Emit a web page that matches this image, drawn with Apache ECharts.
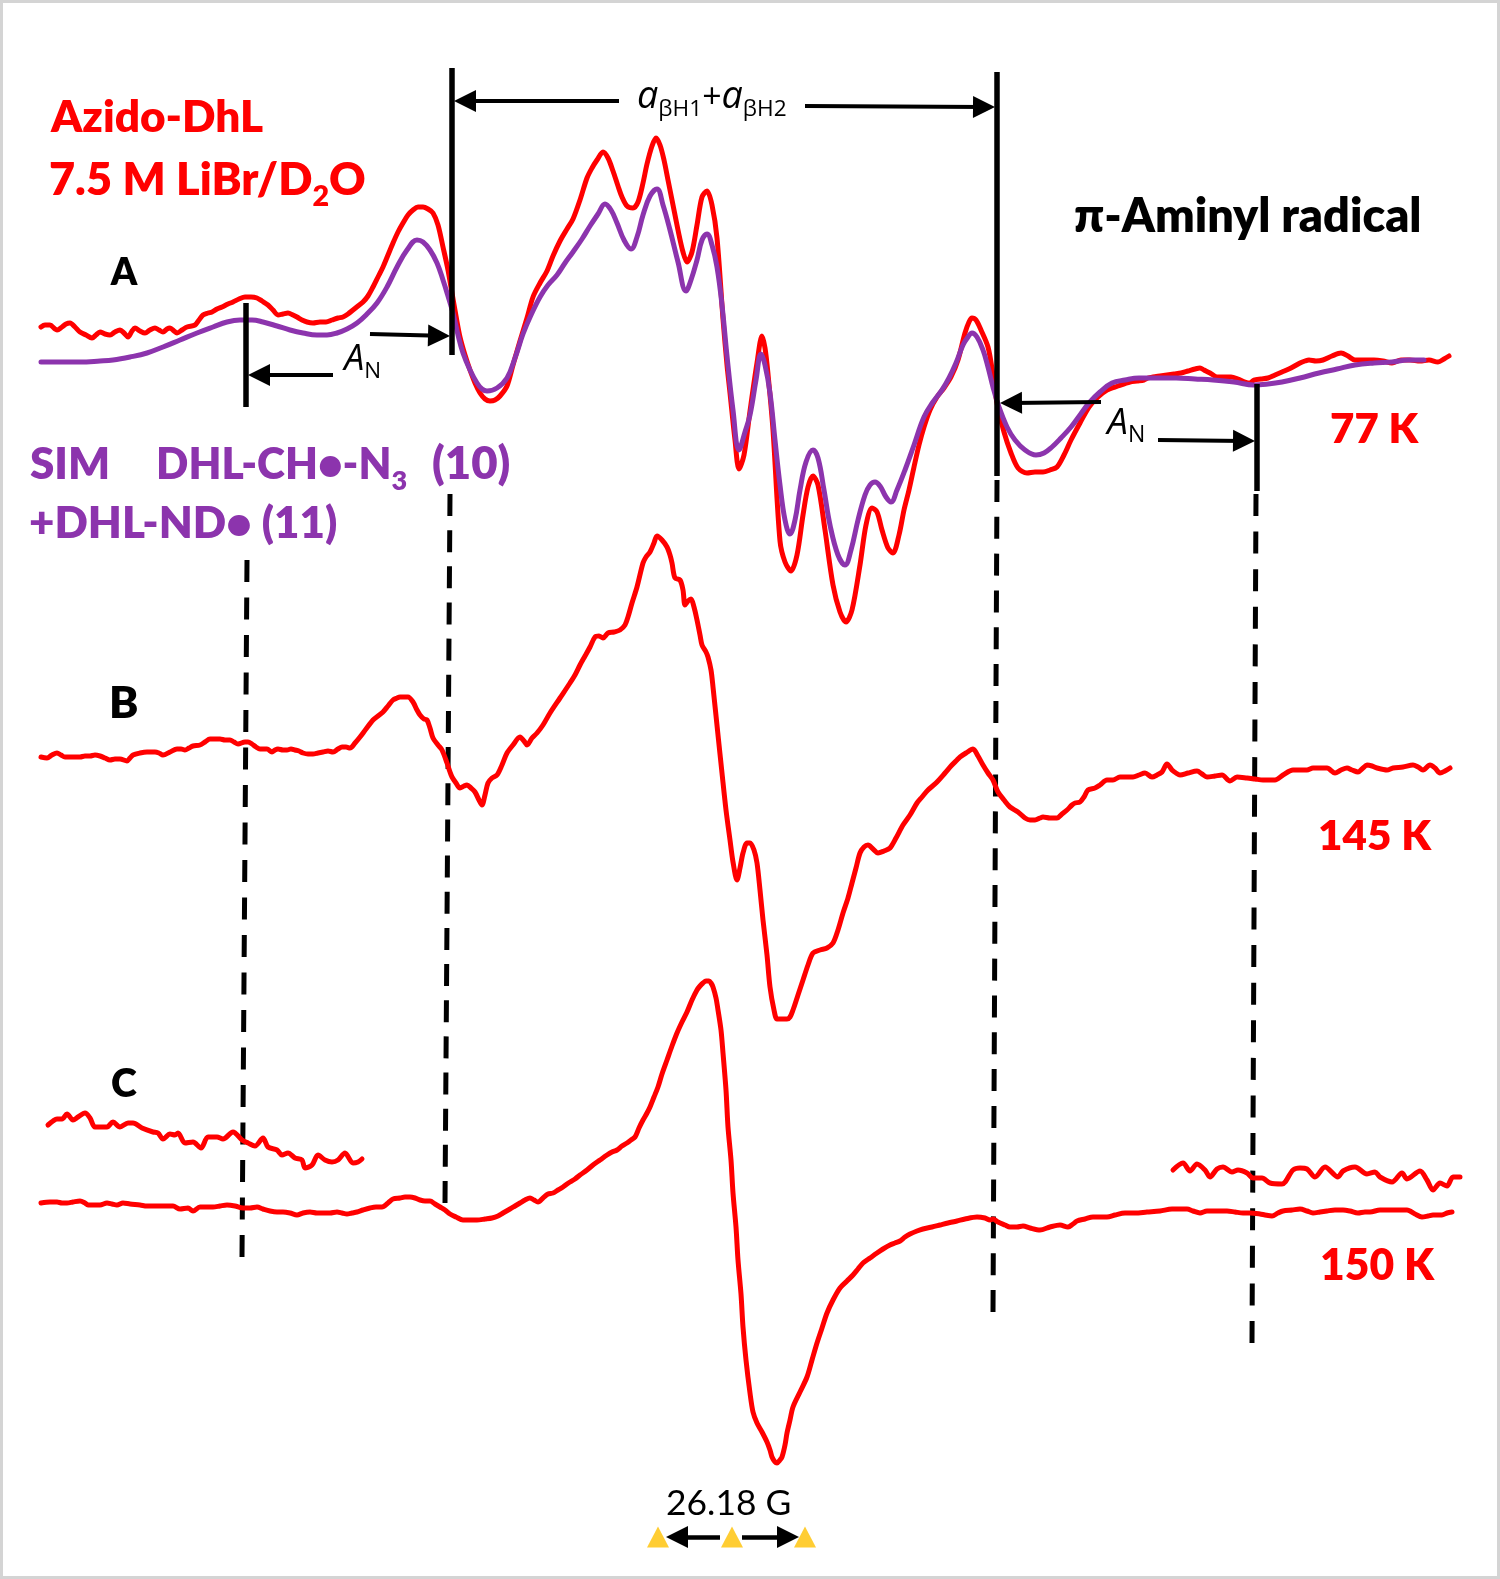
<!DOCTYPE html>
<html>
<head>
<meta charset="utf-8">
<title>Azido-DhL EPR spectra</title>
<script src="https://cdn.jsdelivr.net/npm/echarts@6.0.0/dist/echarts.min.js"></script>
<style>
html,body{margin:0;padding:0;background:#ffffff;}
#chart{width:1500px;height:1579px;}
</style>
</head>
<body>
<div id="chart"></div>
<script>
// ---------------- DATA (x = field position, y = signal position) ----------------
const spectrumA_77K = [[41,327],[45,325],[50,325],[55,329],[57,330],[62,327],[66,324],[70,323],[75,327],[80,332],[86,335],[92,338],[96,335],[100,332],[105,334],[110,335],[115,332],[120,330],[124,333],[128,337],[132,331],[135,328],[140,331],[145,333],[150,330],[155,328],[159,330],[163,332],[167,329],[170,328],[174,331],[177,333],[182,330],[187,327],[195,325],[199,320],[203,315],[208,313],[212,312],[217,309],[222,307],[228,304],[233,302],[239,299],[245,297],[251,297],[257,298],[262,301],[268,305],[273,310],[278,315],[283,314],[288,313],[293,315],[297,317],[302,320],[307,322],[313,323],[320,322],[326,322],[332,320],[338,318],[343,317],[348,314],[353,310],[358,306],[363,302],[368,296],[373,287],[378,277],[383,267],[388,255],[393,243],[398,232],[403,223],[408,215],[413,210],[418,207],[423,207],[428,209],[433,213],[438,225],[443,247],[448,270],[452,293],[456,316],[460,337],[465,355],[470,370],[475,383],[480,393],[485,399],[490,401],[495,400],[500,396],[507,386],[513,365],[520,341],[527,318],[533,297],[540,283],[547,271],[553,256],[560,241],[567,229],[573,219],[580,200],[587,178],[592,168],[597,160],[603,152],[608,158],[613,171],[618,186],[622,197],[627,206],[633,208],[638,202],[643,183],[647,164],[652,146],[656,138],[660,145],[664,160],[668,180],[673,205],[678,230],[683,252],[687,262],[692,252],[697,225],[702,197],[707,191],[712,205],[717,238],[723,319],[727,365],[730,393],[735,440],[739,469],[744,455],[750,411],[757,363],[762,336],[765,348],[768,374],[773,430],[780,541],[785,562],[791,571],[797,555],[803,515],[808,487],[813,476],[818,485],[825,530],[833,585],[840,612],[846,622],[852,610],[860,565],[866,525],[872,508],[877,512],[882,530],[888,548],[893,553],[899,535],[904,510],[909,490],[914,467],[919,445],[924,427],[930,410],[937,397],[944,388],[951,377],[958,360],[965,333],[969,322],[972,318],[976,320],[981,330],[988,347],[993,375],[997,403],[1004,432],[1011,453],[1018,468],[1027,473],[1035,472],[1043,472],[1050,470],[1057,467],[1064,455],[1071,440],[1080,423],[1089,407],[1098,397],[1107,390],[1118,386],[1130,382],[1137,381],[1144,380],[1148,378],[1153,377],[1160,376],[1167,375],[1174,374],[1181,373],[1188,371],[1195,369],[1200,368],[1204,370],[1210,373],[1217,377],[1224,377],[1231,377],[1238,379],[1245,382],[1250,383],[1254,380],[1261,379],[1268,378],[1275,375],[1282,372],[1291,368],[1300,363],[1305,361],[1309,360],[1316,361],[1323,360],[1332,356],[1341,353],[1348,356],[1355,360],[1365,360],[1374,360],[1383,361],[1392,363],[1401,360],[1410,360],[1420,361],[1429,360],[1438,362],[1444,359],[1449,356]];

const simulationA = [[41,362],[60,362],[80,362],[100,361],[113,360],[130,357],[147,353],[163,347],[180,340],[197,333],[213,327],[227,322],[240,320],[252,320],[263,322],[277,326],[290,330],[303,333],[317,335],[327,335],[337,333],[347,329],[357,323],[367,314],[377,303],[387,287],[397,267],[407,250],[417,240],[423,242],[430,250],[437,263],[443,280],[448,296],[453,313],[458,335],[463,353],[470,370],[477,383],[482,389],[487,391],[497,388],[507,378],[515,358],[523,334],[531,315],[540,297],[548,285],[557,275],[565,263],[573,252],[582,239],[590,226],[598,214],[605,204],[611,210],[617,223],[624,240],[631,249],[637,237],[643,215],[650,196],[657,189],[663,205],[670,230],[678,262],[686,291],[691,280],[697,260],[702,240],[707,234],[712,245],[717,267],[722,305],[727,356],[733,410],[739,450],[745,432],[750,415],[756,380],[761,354],[765,365],[770,393],[775,440],[780,485],[785,520],[790,534],[795,520],[800,490],[806,462],[813,450],[818,458],[824,490],[830,525],[838,555],[845,565],[851,550],[858,520],[865,495],[870,485],[875,482],[880,486],[886,497],[891,502],[897,490],[905,470],[914,445],[924,417],[933,402],[942,390],[949,378],[956,363],[963,345],[968,337],[972,333],[977,337],[983,350],[988,367],[993,387],[999,407],[1007,427],[1015,440],[1025,450],[1036,455],[1044,453],[1052,447],[1061,438],[1071,427],[1080,415],[1089,403],[1100,392],[1112,383],[1125,380],[1139,378],[1157,378],[1176,378],[1195,379],[1213,380],[1234,382],[1254,385],[1268,384],[1282,382],[1300,378],[1319,373],[1337,369],[1355,365],[1374,363],[1392,362],[1408,360],[1424,360]];

const spectrumB_145K = [[41,757],[47,758],[52,755],[57,753],[61,755],[65,757],[72,757],[80,757],[85,756],[90,756],[95,755],[100,756],[105,758],[110,760],[115,759],[120,759],[127,761],[130,758],[133,755],[140,753],[147,752],[155,752],[159,753],[163,755],[170,752],[177,749],[181,749],[185,750],[189,748],[193,746],[200,745],[205,742],[210,739],[215,739],[220,739],[225,740],[230,740],[234,742],[238,744],[245,742],[248,742],[252,744],[256,747],[260,749],[267,749],[272,752],[275,750],[278,749],[283,750],[287,750],[291,749],[295,750],[299,751],[303,753],[308,754],[313,754],[318,753],[323,752],[328,751],[333,752],[338,749],[342,747],[346,747],[350,748],[355,743],[360,737],[366,729],[373,720],[378,716],[383,712],[388,706],[393,700],[397,698],[400,697],[404,697],[408,697],[413,702],[417,710],[420,715],[424,719],[427,720],[430,728],[433,738],[438,745],[442,750],[447,763],[450,772],[452,777],[456,783],[460,788],[464,786],[467,785],[471,788],[475,792],[479,800],[482,805],[485,795],[488,783],[492,778],[497,775],[502,765],[507,753],[513,745],[520,737],[524,741],[527,745],[532,738],[537,733],[543,725],[550,713],[560,698],[570,683],[575,675],[580,665],[585,656],[590,647],[595,637],[599,636],[603,638],[608,633],[614,632],[620,630],[625,625],[628,617],[632,603],[637,587],[643,563],[646,557],[650,552],[654,543],[657,536],[662,540],[667,547],[670,555],[672,563],[675,578],[680,580],[683,590],[685,605],[688,601],[691,599],[694,607],[697,620],[700,635],[702,645],[706,652],[708,657],[711,670],[713,687],[718,735],[722,773],[726,810],[730,840],[733,862],[737,880],[740,868],[743,853],[747,843],[750,843],[754,850],[757,863],[760,890],[763,920],[767,955],[770,987],[774,1010],[777,1019],[782,1019],[787,1019],[790,1017],[793,1010],[798,995],[803,980],[808,965],[813,953],[820,950],[827,948],[833,943],[838,930],[843,913],[848,898],[852,883],[856,868],[860,853],[864,847],[868,845],[873,849],[878,853],[884,851],[890,848],[896,838],[903,825],[910,815],[917,803],[922,797],[928,790],[936,783],[945,773],[951,766],[957,760],[960,757],[966,753],[973,749],[978,756],[983,765],[988,773],[993,780],[998,792],[1004,800],[1010,807],[1018,812],[1025,818],[1030,820],[1035,820],[1040,818],[1043,817],[1050,818],[1057,818],[1062,814],[1067,810],[1072,805],[1075,803],[1080,802],[1084,797],[1088,790],[1095,788],[1100,785],[1107,780],[1113,780],[1120,777],[1127,777],[1133,777],[1139,775],[1145,773],[1152,777],[1157,775],[1162,772],[1167,764],[1172,770],[1176,773],[1180,775],[1188,773],[1197,771],[1202,774],[1207,777],[1215,776],[1222,775],[1230,781],[1237,777],[1247,778],[1255,779],[1263,780],[1270,780],[1275,780],[1283,775],[1293,770],[1300,770],[1307,770],[1313,768],[1320,768],[1327,768],[1335,773],[1341,770],[1347,768],[1352,770],[1358,772],[1363,768],[1367,765],[1372,766],[1377,768],[1387,770],[1393,768],[1403,767],[1413,765],[1418,767],[1423,770],[1430,765],[1435,768],[1440,773],[1445,771],[1450,768]];

const spectrumC_150K = [[41,1203],[50,1202],[57,1202],[62,1203],[67,1203],[73,1202],[80,1201],[85,1203],[88,1205],[95,1205],[100,1205],[107,1203],[112,1204],[117,1205],[123,1203],[130,1204],[140,1205],[147,1206],[153,1206],[163,1206],[173,1206],[180,1209],[188,1208],[193,1211],[200,1207],[207,1207],[213,1207],[220,1206],[227,1205],[235,1206],[243,1208],[250,1208],[257,1207],[263,1209],[270,1211],[277,1212],[283,1212],[290,1213],[297,1215],[303,1213],[310,1212],[317,1213],[323,1213],[330,1213],[337,1212],[342,1213],[347,1214],[352,1213],[357,1212],[363,1210],[370,1208],[376,1207],[382,1207],[388,1203],[393,1199],[400,1198],[405,1197],[410,1197],[415,1198],[420,1200],[425,1201],[430,1201],[435,1204],[440,1207],[445,1210],[450,1214],[456,1217],[463,1220],[470,1220],[477,1220],[485,1219],[492,1218],[498,1216],[503,1213],[510,1209],[515,1206],[520,1203],[525,1200],[530,1198],[534,1200],[538,1202],[543,1198],[548,1194],[553,1193],[558,1190],[563,1187],[567,1184],[570,1182],[575,1179],[580,1175],[587,1170],[593,1165],[600,1160],[607,1155],[612,1152],[617,1150],[622,1146],[627,1143],[631,1140],[635,1137],[639,1128],[643,1120],[647,1113],[650,1107],[654,1097],[658,1087],[662,1074],[667,1060],[672,1046],[677,1033],[682,1022],[687,1012],[692,1000],[697,990],[700,986],[703,983],[706,981],[709,981],[711,983],[713,987],[716,998],[718,1010],[721,1030],[723,1053],[726,1090],[728,1127],[731,1160],[733,1193],[736,1227],[738,1260],[741,1294],[743,1327],[746,1360],[750,1393],[753,1412],[757,1423],[762,1432],[767,1442],[770,1450],[772,1457],[775,1462],[777,1463],[780,1460],[782,1457],[785,1445],[787,1433],[790,1420],[793,1407],[800,1392],[807,1377],[812,1360],[817,1343],[822,1328],[827,1313],[833,1300],[840,1288],[847,1281],[853,1275],[858,1269],[863,1263],[870,1258],[877,1253],[883,1249],[890,1245],[895,1243],[900,1241],[905,1237],[910,1234],[917,1231],[923,1229],[932,1227],[940,1225],[948,1223],[957,1221],[965,1219],[977,1217],[985,1218],[990,1220],[993,1219],[998,1222],[1005,1225],[1010,1227],[1017,1227],[1023,1226],[1030,1228],[1040,1230],[1050,1227],[1060,1225],[1068,1227],[1073,1224],[1077,1221],[1085,1219],[1093,1217],[1100,1217],[1107,1217],[1115,1215],[1125,1213],[1135,1213],[1147,1212],[1160,1211],[1172,1209],[1180,1209],[1187,1209],[1193,1211],[1200,1213],[1207,1211],[1217,1211],[1227,1211],[1235,1212],[1243,1213],[1250,1213],[1260,1214],[1265,1215],[1272,1216],[1278,1213],[1283,1211],[1292,1210],[1300,1209],[1307,1211],[1313,1213],[1320,1212],[1327,1211],[1335,1210],[1343,1210],[1350,1211],[1358,1213],[1365,1212],[1370,1212],[1380,1210],[1393,1210],[1400,1210],[1407,1210],[1415,1214],[1422,1217],[1428,1216],[1433,1215],[1442,1215],[1447,1213],[1452,1212]];

const spectrumC_wingLow = [[48,1125],[53,1121],[57,1119],[62,1119],[67,1114],[73,1120],[78,1117],[85,1113],[90,1118],[95,1127],[102,1127],[107,1127],[113,1122],[120,1127],[128,1123],[133,1123],[142,1128],[153,1132],[158,1133],[163,1139],[170,1134],[175,1135],[178,1133],[185,1143],[193,1142],[201,1148],[208,1137],[217,1137],[223,1139],[233,1132],[242,1140],[248,1143],[255,1146],[263,1138],[268,1147],[277,1150],[282,1155],[288,1153],[295,1158],[302,1160],[305,1168],[312,1165],[318,1155],[325,1160],[332,1162],[338,1160],[345,1153],[353,1163],[358,1162],[362,1159]];

const spectrumC_wingHigh = [[1173,1170],[1183,1163],[1190,1171],[1197,1164],[1205,1170],[1210,1177],[1217,1169],[1223,1167],[1232,1172],[1238,1170],[1247,1173],[1253,1178],[1262,1178],[1270,1183],[1282,1184],[1293,1170],[1300,1168],[1307,1169],[1315,1177],[1325,1167],[1338,1177],[1343,1171],[1355,1167],[1367,1174],[1375,1172],[1380,1177],[1392,1182],[1402,1173],[1407,1179],[1420,1171],[1427,1180],[1433,1190],[1440,1183],[1447,1186],[1453,1177],[1460,1177]];

// hyperfine markers (field positions)
const solidMarkers  = [[[452,68],[452,355]], [[997,72],[997,476]], [[246,303],[246,407]], [[1257,384],[1257,491]]];
const dashedMarkers = [[[247,560],[242,1257]], [[450,494],[445,1203]], [[997,480],[993,1312]], [[1256,494],[1252,1343]]];
// arrows: [start, tip]
const splittingArrows = [[[619,101],[454,101]], [[805,106],[995,107]], [[370,334],[450,336]], [[333,375],[248,375]], [[1101,402],[1000,403]], [[1158,440],[1255,441]]];
const scaleArrows = [[[720,1537],[666,1537]], [[742,1537],[799,1537]]];
const fremyMarkers = [[658,1537],[732,1537],[805,1537]];

const panelLabels = ['A', 'B', 'C'];
const temperatureLabels = ['77 K', '145 K', '150 K'];
const scaleLabel = '26.18 G';

// ---------------- STYLE ----------------
const RED = '#ff0000';
const PURPLE = '#8c34ad';
const BLACK = '#000000';
const GOLD = '#ffc000';

// ---------------- TEXT LAYOUT HELPER ----------------
const mctx = document.createElement('canvas').getContext('2d');
function fontStr(p, size) {
  return (p.italic ? 'italic ' : '') + (p.weight ? p.weight + ' ' : '') + size.toFixed(2) + 'px "' + (p.family || 'Lato') + '"';
}
function textRun(def) {
  let adv = 0, first = null, last = null;
  def.parts.forEach((p, i) => {
    mctx.font = fontStr(p, p.size);
    mctx.textBaseline = 'alphabetic';
    const m = mctx.measureText(p.t);
    if (i === 0) first = m;
    if (i === def.parts.length - 1) last = m; else adv += m.width;
  });
  const ink = first.actualBoundingBoxLeft + adv + last.actualBoundingBoxRight;
  const k = def.width ? def.width / ink : 1;
  let cx = def.x + first.actualBoundingBoxLeft * k;
  const els = [];
  def.parts.forEach(p => {
    const size = p.size * k;
    const font = fontStr(p, size);
    mctx.font = font;
    mctx.textBaseline = 'middle';
    const mid = mctx.measureText('H').actualBoundingBoxDescent;
    mctx.textBaseline = 'alphabetic';
    const w = mctx.measureText(p.t).width;
    els.push({
      type: 'text', x: cx, y: def.baseline + (p.dy || 0) - mid, z: 100, silent: true,
      style: { text: p.t, font: font, fill: def.color, align: 'left', verticalAlign: 'middle', textAlign: 'left', textVerticalAlign: 'middle' }
    });
    cx += w;
  });
  return els;
}

const B = { weight: 800, family: 'Lato' };
const texts = [
  { x: 50, baseline: 132, width: 213, color: RED, parts: [{ t: 'Azido-DhL', size: 44, ...B }] },
  { x: 50, baseline: 195, width: 315, color: RED, parts: [{ t: '7.5 M LiBr/D', size: 44, ...B }, { t: '2', size: 28, dy: 11, ...B }, { t: 'O', size: 44, ...B }] },
  { x: 110, baseline: 285, width: 28, color: BLACK, parts: [{ t: panelLabels[0], size: 44, ...B }] },
  { x: 112, baseline: 718, width: 25, color: BLACK, parts: [{ t: panelLabels[1], size: 44, ...B }] },
  { x: 112, baseline: 1097, width: 25, color: BLACK, parts: [{ t: panelLabels[2], size: 44, ...B }] },
  { x: 30, baseline: 479, width: 78, color: PURPLE, parts: [{ t: 'SIM', size: 44, ...B }] },
  { x: 159, baseline: 479, width: 248, color: PURPLE, parts: [{ t: 'DHL-CH•-N', size: 44, ...B }, { t: '3', size: 28, dy: 11, ...B }] },
  { x: 433, baseline: 479, width: 77, color: PURPLE, parts: [{ t: '(10)', size: 44, ...B }] },
  { x: 30, baseline: 538, width: 307, color: PURPLE, parts: [{ t: '+DHL-ND• (11)', size: 44, ...B }] },
  { x: 1075, baseline: 232, width: 345, color: BLACK, parts: [{ t: 'π-Aminyl radical', size: 44, ...B }] },
  { x: 1331, baseline: 443, width: 88, color: RED, parts: [{ t: temperatureLabels[0], size: 44, ...B }] },
  { x: 1320, baseline: 850, width: 112, color: RED, parts: [{ t: temperatureLabels[1], size: 44, ...B }] },
  { x: 1322, baseline: 1280, width: 113, color: RED, parts: [{ t: temperatureLabels[2], size: 44, ...B }] },
  { x: 667, baseline: 1515, width: 123, color: BLACK, parts: [{ t: scaleLabel, size: 36, family: 'Lato' }] },
  { x: 638, baseline: 108, width: 148, color: BLACK, parts: [
      { t: 'a', size: 40, italic: true, family: 'Open Sans' }, { t: 'βH1', size: 24, dy: 8, family: 'Open Sans' },
      { t: '+', size: 36, family: 'Open Sans' },
      { t: 'a', size: 40, italic: true, family: 'Open Sans' }, { t: 'βH2', size: 24, dy: 8, family: 'Open Sans' }] },
  { x: 342, baseline: 370, width: 38, color: BLACK, parts: [{ t: 'A', size: 32, italic: true, family: 'Open Sans' }, { t: 'N', size: 20, dy: 8, family: 'Open Sans' }] },
  { x: 1105, baseline: 434, width: 39, color: BLACK, parts: [{ t: 'A', size: 32, italic: true, family: 'Open Sans' }, { t: 'N', size: 20, dy: 8, family: 'Open Sans' }] }
];

let graphics = [{
  type: 'rect', z: 0, silent: true,
  shape: { x: 1.5, y: 1.5, width: 1497, height: 1576 },
  style: { fill: null, stroke: '#d4d4d4', lineWidth: 3 }
}];
texts.forEach(d => { graphics = graphics.concat(textRun(d)); });

// ---------------- SERIES ----------------
function trace(data, color, width, z, smooth) {
  return { type: 'line', data: data, smooth: smooth, showSymbol: false, symbol: 'none', silent: true, z: z,
    lineStyle: { color: color, width: width, cap: 'round', join: 'round' } };
}
function arrowSeries(list, head, width) {
  return {
    type: 'lines', coordinateSystem: 'cartesian2d', silent: true, z: 7,
    symbol: ['none', 'triangle'], symbolSize: head,
    lineStyle: { color: BLACK, width: width, opacity: 1, curveness: 0 },
    data: list.map(([from, tip]) => {
      const dx = tip[0] - from[0], dy = tip[1] - from[1];
      const L = Math.hypot(dx, dy);
      return { coords: [from, [tip[0] - dx / L * head / 2, tip[1] - dy / L * head / 2]] };
    })
  };
}
// dash pattern adjusted so both ends of each marker line finish on a dash
function dashFor(seg) {
  const L = Math.hypot(seg[1][0] - seg[0][0], seg[1][1] - seg[0][1]);
  const dash = 22;
  const n = Math.max(1, Math.round((L - dash) / 37));
  return [dash, (L - dash) / n - dash];
}

const series = [];
dashedMarkers.forEach(seg => series.push({ type: 'line', data: seg, showSymbol: false, symbol: 'none', silent: true, z: 1,
  lineStyle: { color: BLACK, width: 5, type: dashFor(seg) } }));
series.push(trace(spectrumC_150K, RED, 5, 3, 0.3));
series.push(trace(spectrumC_wingLow, RED, 5, 3, 0.3));
series.push(trace(spectrumC_wingHigh, RED, 5, 3, 0.3));
series.push(trace(spectrumB_145K, RED, 5, 3, 0.3));
series.push(trace(spectrumA_77K, RED, 5, 3, 0.3));
series.push(trace(simulationA, PURPLE, 5, 4, 0.4));
solidMarkers.forEach(seg => series.push({ type: 'line', data: seg, showSymbol: false, symbol: 'none', silent: true, z: 6,
  lineStyle: { color: BLACK, width: 5.5 } }));
series.push(arrowSeries(splittingArrows, 22, 4));
series.push(arrowSeries(scaleArrows, 22, 4.5));
series.push({ type: 'scatter', data: fremyMarkers, symbol: 'triangle', symbolSize: [22, 21], silent: true, z: 8,
  itemStyle: { color: GOLD } });

const chart = echarts.init(document.getElementById('chart'), null, { renderer: 'canvas' });
chart.setOption({
  animation: false,
  backgroundColor: '#ffffff',
  grid: { left: 0, right: 0, top: 0, bottom: 0 },
  xAxis: { type: 'value', min: 0, max: 1500, show: false },
  yAxis: { type: 'value', min: 0, max: 1579, inverse: true, show: false },
  graphic: graphics,
  series: series
});
</script>
</body>
</html>
